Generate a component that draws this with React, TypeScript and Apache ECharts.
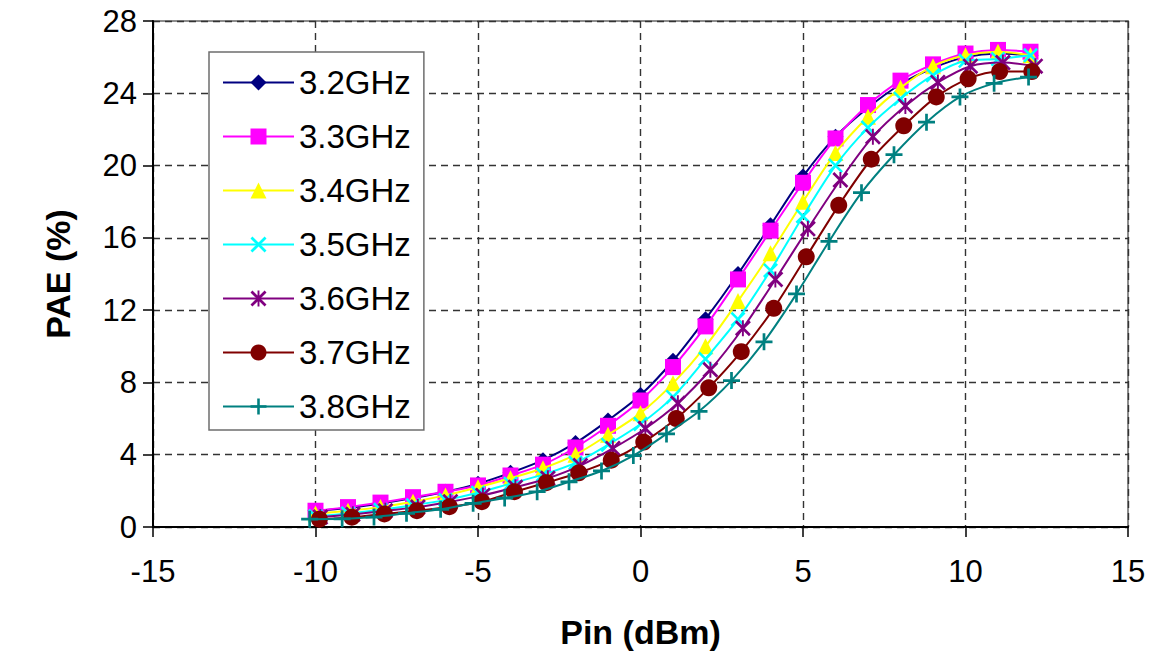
import React, { useEffect, useRef } from "react";
import * as echarts from "echarts";

const seriesNames = ["3.2GHz", "3.3GHz", "3.4GHz", "3.5GHz", "3.6GHz", "3.7GHz", "3.8GHz"];
const seriesColors = ["#000080", "#FF00FF", "#FFFF00", "#00FFFF", "#800080", "#800000", "#008080"];

const xTicks = [-15, -10, -5, 0, 5, 10, 15];
const yTicks = [0, 4, 8, 12, 16, 20, 24, 28];

const pinA = [-10, -9, -8, -7, -6, -5, -4, -3, -2, -1, 0, 1, 2, 3, 4, 5, 6, 7, 8, 9, 10, 11, 12];
const pin36 = [-9.85, -8.85, -7.85, -6.85, -5.85, -4.85, -3.85, -2.85, -1.85, -0.85, 0.15, 1.15, 2.15, 3.15, 4.15, 5.15, 6.15, 7.15, 8.15, 9.15, 10.15, 11.15, 12.15];
const pin37 = [-9.88, -8.88, -7.88, -6.88, -5.88, -4.88, -3.88, -2.9, -1.9, -0.9, 0.1, 1.1, 2.1, 3.1, 4.1, 5.1, 6.1, 7.1, 8.1, 9.1, 10.08, 11.05, 12.04];
const pin38 = [-10.18, -9.18, -8.2, -7.2, -6.15, -5.15, -4.18, -3.18, -2.2, -1.2, -0.22, 0.8, 1.8, 2.8, 3.8, 4.8, 5.8, 6.8, 7.8, 8.8, 9.83, 10.88, 11.94];

const pae32 = [0.9, 1.05, 1.3, 1.6, 1.95, 2.4, 3.0, 3.7, 4.65, 5.9, 7.3, 9.2, 11.5, 14.0, 16.7, 19.4, 21.6, 23.2, 24.5, 25.4, 26.0, 26.2, 26.1];
const pae33 = [0.9, 1.1, 1.35, 1.65, 1.95, 2.3, 2.85, 3.45, 4.4, 5.6, 7.0, 8.85, 11.1, 13.7, 16.4, 19.05, 21.5, 23.35, 24.7, 25.6, 26.2, 26.4, 26.3];
const pae34 = [0.75, 0.9, 1.1, 1.4, 1.75, 2.2, 2.7, 3.25, 4.0, 5.1, 6.3, 7.95, 10.0, 12.5, 15.15, 18.0, 20.7, 22.7, 24.3, 25.5, 26.1, 26.3, 26.1];
const pae35 = [0.6, 0.75, 0.95, 1.2, 1.5, 1.9, 2.4, 2.9, 3.55, 4.55, 5.7, 7.2, 9.3, 11.5, 14.2, 17.2, 20.0, 22.1, 23.7, 25.0, 25.8, 25.9, 26.1];
const pae36 = [0.55, 0.7, 0.9, 1.1, 1.4, 1.75, 2.2, 2.7, 3.4, 4.35, 5.45, 6.85, 8.7, 11.0, 13.7, 16.5, 19.2, 21.6, 23.3, 24.6, 25.5, 25.7, 25.5];
const pae37 = [0.43, 0.54, 0.72, 0.9, 1.12, 1.4, 1.95, 2.45, 3.0, 3.7, 4.7, 6.0, 7.7, 9.7, 12.1, 14.95, 17.8, 20.35, 22.2, 23.8, 24.8, 25.2, 25.2];
const pae38 = [0.43, 0.45, 0.55, 0.76, 0.98, 1.31, 1.6, 1.95, 2.5, 3.1, 3.95, 5.15, 6.4, 8.1, 10.25, 12.9, 15.8, 18.5, 20.6, 22.4, 23.8, 24.55, 24.9];

const xValues = [pinA, pinA, pinA, pinA, pin36, pin37, pin38];
const yValues = [pae32, pae33, pae34, pae35, pae36, pae37, pae38];

const SYM_X = "path://M0,1.2L1.2,0L10,8.8L8.8,10Z M8.8,0L10,1.2L1.2,10L0,8.8Z";
const SYM_STAR = "path://M0,1.2L1.2,0L10,8.8L8.8,10Z M8.8,0L10,1.2L1.2,10L0,8.8Z M4.4,0L5.6,0L5.6,10L4.4,10Z";
const SYM_PLUS = "path://M4.2,0H5.8V4.2H10V5.8H5.8V10H4.2V5.8H0V4.2H4.2Z";
const symbols = ["diamond", "rect", "triangle", SYM_X, SYM_STAR, "circle", SYM_PLUS];
const symbolSizes = [16, 16, 16, 15, 16, 17, 17];

const FONT = "'Liberation Sans', Arial, sans-serif";

export default function App() {
  const ref = useRef<HTMLDivElement>(null);
  useEffect(() => {
    if (!ref.current) return;
    const chart = echarts.init(ref.current, undefined, { renderer: "svg" });
    const series = seriesNames.map((name, i) => ({
      name,
      type: "line",
      data: xValues[i].map((x, j) => [x, yValues[i][j]]),
      smooth: 0.3,
      symbol: symbols[i],
      symbolSize: symbolSizes[i],
      showAllSymbol: true,
      lineStyle: { color: seriesColors[i], width: 2 },
      itemStyle: { color: seriesColors[i], borderWidth: 0 },
      z: 3 + i,
    }));
    chart.setOption({
      animation: false,
      backgroundColor: "#ffffff",
      grid: {
        left: 153,
        right: 24,
        top: 21,
        bottom: 127,
        show: true,
        borderColor: "#8c8c8c",
        borderWidth: 2,
        backgroundColor: "transparent",
      },
      legend: {
        data: seriesNames,
        orient: "vertical",
        left: 209,
        top: 52,
        backgroundColor: "#ffffff",
        borderColor: "#6e6e6e",
        borderWidth: 1.5,
        borderRadius: 0,
        padding: [14, 13, 7, 13],
        itemWidth: 71,
        itemHeight: 20,
        itemGap: 21,
        textStyle: { fontFamily: FONT, fontSize: 33, color: "#000", lineHeight: 33 },
      },
      xAxis: {
        type: "value",
        min: xTicks[0],
        max: xTicks[xTicks.length - 1],
        interval: 5,
        name: "Pin (dBm)",
        nameLocation: "middle",
        nameGap: 88,
        nameTextStyle: { fontFamily: FONT, fontSize: 34, fontWeight: "bold", color: "#000" },
        axisLine: { show: true, onZero: false, lineStyle: { color: "#000", width: 2 } },
        axisTick: { show: true, inside: false, length: 10, lineStyle: { color: "#000", width: 1.5 } },
        axisLabel: { fontFamily: FONT, fontSize: 31, color: "#000", margin: 29 },
        splitLine: { show: true, lineStyle: { color: "#333333", width: 1.4, type: [7, 5] } },
      },
      yAxis: {
        type: "value",
        min: yTicks[0],
        max: yTicks[yTicks.length - 1],
        interval: 4,
        name: "PAE (%)",
        nameLocation: "middle",
        nameGap: 78,
        nameTextStyle: { fontFamily: FONT, fontSize: 34, fontWeight: "bold", color: "#000" },
        axisLine: { show: true, onZero: false, lineStyle: { color: "#000", width: 2 } },
        axisTick: { show: true, inside: false, length: 10, lineStyle: { color: "#000", width: 1.5 } },
        axisLabel: { fontFamily: FONT, fontSize: 31, color: "#000", margin: 16 },
        splitLine: { show: true, lineStyle: { color: "#333333", width: 1.4, type: [7, 5] } },
      },
      series,
    });
    return () => chart.dispose();
  }, []);
  return (
    <div
      ref={ref}
      style={{ position: "fixed", left: 0, top: 0, width: 1152, height: 654, background: "#fff" }}
    />
  );
}
